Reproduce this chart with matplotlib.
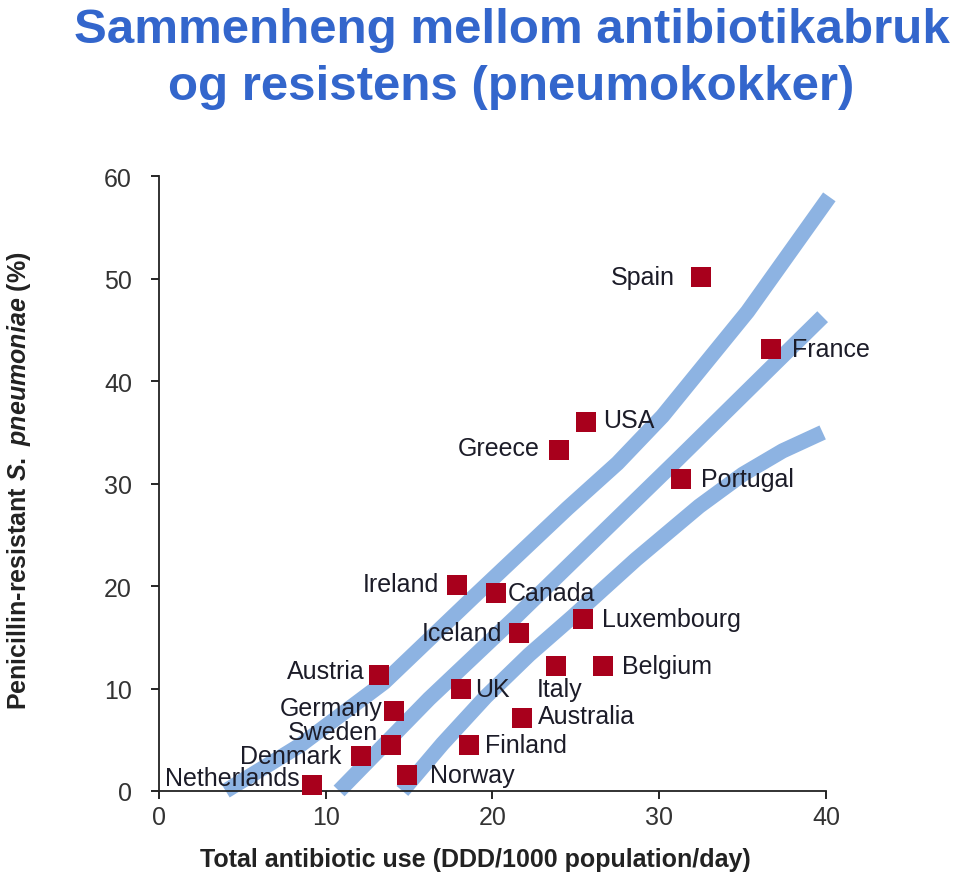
import numpy as np
import matplotlib
matplotlib.use("Agg")
import matplotlib.pyplot as plt

plt.rcParams["font.family"] = ["Liberation Sans", "DejaVu Sans"]
plt.rcParams["mathtext.fontset"] = "custom"
plt.rcParams["mathtext.it"] = "Liberation Sans:bold:italic"
plt.rcParams["mathtext.rm"] = "Liberation Sans:bold"

# data
countries = ["Netherlands", "Denmark", "Sweden", "Germany", "Austria", "Norway",
             "UK", "Finland", "Ireland", "Canada", "Iceland", "Australia",
             "Italy", "Belgium", "Luxembourg", "Greece", "USA", "Portugal",
             "Spain", "France"]
use = [9.2, 12.1, 13.9, 14.1, 13.2, 14.9, 18.1, 18.6, 17.9, 20.2, 21.6, 21.8,
       23.8, 26.6, 25.4, 24.0, 25.6, 31.3, 32.5, 36.7]
resist = [0.6, 3.4, 4.5, 7.8, 11.3, 1.6, 10.0, 4.5, 20.1, 19.3, 15.4, 7.1,
          12.2, 12.2, 16.8, 33.3, 36.0, 30.5, 50.2, 43.1]

# the three broad trend bands
band_upper_x = [4.0, 8.5, 13.5, 18.9, 24.5, 27.5, 30.2, 35.3, 40.2]
band_upper_y = [0.0, 4.5, 10.6, 19.0, 27.6, 32.0, 36.6, 46.8, 58.0]
band_mid_x = [10.8, 16.2, 21.4, 31.0, 39.8]
band_mid_y = [0.0, 9.0, 17.0, 32.2, 46.3]
band_low_x = [14.6, 17.0, 19.6, 22.2, 24.8, 28.6, 32.4, 35.0, 37.4, 39.8]
band_low_y = [0.0, 4.6, 9.2, 13.3, 17.0, 22.6, 27.8, 30.9, 33.2, 35.0]

xticks = [0, 10, 20, 30, 40]
yticks = [0, 10, 20, 30, 40, 50, 60]

# label placement (offset in pixels)
left = ["Netherlands", "Denmark", "Sweden", "Germany", "Austria", "Ireland",
        "Iceland", "Greece", "Spain"]
offsets = {
    "Netherlands": (-13, 7), "Denmark": (-19, 0), "Sweden": (-13, 13),
    "Germany": (-12, 3), "Austria": (-14, 4), "Ireland": (-18, 1),
    "Iceland": (-17, 0), "Greece": (-20, 2), "Spain": (-26, 0),
    "Italy": (4, -23), "Norway": (23, 0), "UK": (14, 0), "Finland": (16, 0),
    "Canada": (12, 0), "Australia": (15, 2), "Luxembourg": (19, 0),
    "Belgium": (19, 0), "USA": (17, 2), "Portugal": (20, 0), "France": (21, 0),
}

fig = plt.figure(figsize=(9.6, 8.78), dpi=100)
ax = fig.add_axes([0.1656, 0.098, 0.6948, 0.700])

band_color = "#8db3e2"
for bx, by in [(band_upper_x, band_upper_y), (band_mid_x, band_mid_y), (band_low_x, band_low_y)]:
    ax.plot(bx, by, color=band_color, lw=11, solid_capstyle="butt",
            solid_joinstyle="round", clip_on=False, zorder=1)

ax.scatter(use, resist, marker="s", s=200, color="#a8001c", linewidths=0,
           zorder=3, clip_on=False)

for name, x, y in zip(countries, use, resist):
    dx, dy = offsets[name]
    if name in left:
        ha = "right"
    elif name == "Italy":
        ha = "center"
    else:
        ha = "left"
    ax.annotate(name, (x, y), xytext=(dx, dy), textcoords="offset pixels",
                ha=ha, va="center", fontsize=18, color="#1c1c28", zorder=4)

ax.set_xlim(0, 40)
ax.set_ylim(0, 60)
ax.set_xticks(xticks)
ax.set_yticks(yticks)
ax.tick_params(direction="out", length=5.5, width=1.2, labelsize=18,
               labelcolor="#333333")
ax.tick_params(axis="x", pad=4.5)
ax.tick_params(axis="y", pad=14)
for s in ["top", "right"]:
    ax.spines[s].set_visible(False)
for s in ["left", "bottom"]:
    ax.spines[s].set_linewidth(1.3)
    ax.spines[s].set_color("#222222")

fig.text(0.495, 1 - 860 / 878, "Total antibiotic use (DDD/1000 population/day)",
         ha="center", va="center", fontsize=18, fontweight="bold", color="#222222")
fig.text(0.02, 0.453, r"Penicillin-resistant $\mathit{S.\ pneumoniae}$ (%)",
         ha="center", va="center", rotation=90, fontsize=18,
         fontweight="bold", color="#222222")

title_color = "#3366cc"
fig.text(0.533, 1 - 43 / 878, "Sammenheng mellom antibiotikabruk",
         ha="center", va="baseline", fontsize=35.5, fontweight="bold", color=title_color)
fig.text(0.533, 1 - 100 / 878, "og resistens (pneumokokker)",
         ha="center", va="baseline", fontsize=35.5, fontweight="bold", color=title_color)

fig.savefig("out.png", dpi=100)
